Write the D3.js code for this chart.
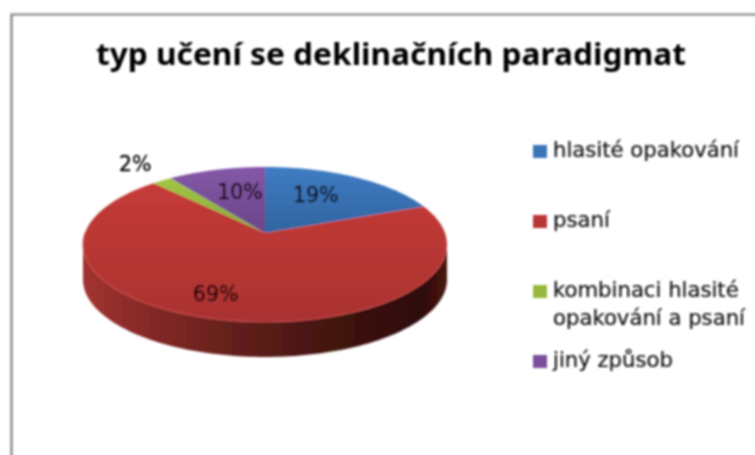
<!DOCTYPE html>
<html><head><meta charset="utf-8">
<script src="https://cdn.jsdelivr.net/npm/d3@7"></script>
<style>html,body{margin:0;padding:0;background:#fff}svg{display:block}</style>
</head><body><svg id="c" width="755" height="455"></svg>
<script>
const titleText = "typ učení se deklinačních paradigmat";
const categories = ["hlasité opakování","psaní","kombinaci hlasité opakování a psaní","jiný způsob"];
const legendLines = [["hlasité opakování"],["psaní"],["kombinaci hlasité","opakování a psaní"],["jiný způsob"]];
const values = [19,69,2,10];
const colors = ["#3a74b8","#b93634","#96b93d","#7a4f9c"];

const W=755,H=455;
const legendBaselines = [157,227,297,367];
const svg=d3.select("#c");
const defs=svg.append("defs");
defs.append("filter").attr("id","soft").attr("x","-5%").attr("y","-5%").attr("width","110%").attr("height","110%")
  .append("feGaussianBlur").attr("stdDeviation",0.8);
const vgrad=(id,c1,c2)=>{const g=defs.append("linearGradient").attr("id",id).attr("x1",0).attr("x2",0).attr("y1",0).attr("y2",1);
  g.append("stop").attr("offset",0).attr("stop-color",c1);g.append("stop").attr("offset",1).attr("stop-color",c2);};
vgrad("g0","#3f7cc4","#31659f");
vgrad("g1","#c53b38","#aa3230");
vgrad("g2","#a3c545","#86a938");
vgrad("g3","#8558a8","#6a4488");
const side=defs.append("linearGradient").attr("id","side").attr("x1",0).attr("x2",1).attr("y1",0).attr("y2",0);
[[0,"#a33331"],[0.15,"#8a2a28"],[0.4,"#65201c"],[0.7,"#40130f"],[0.93,"#2e0c0a"],[1,"#4a1512"]]
  .forEach(s=>side.append("stop").attr("offset",s[0]).attr("stop-color",s[1]));

const root=svg.append("g").attr("filter","url(#soft)");
root.append("path").attr("d",d3.line()([[11.5,H+5],[11.5,14.5],[W+5,14.5]])).attr("fill","none").attr("stroke","#7f7f7f").attr("stroke-width",2.2);

// Perspective pie projection
const cx=265,cy=233,A=180,D=75.8,K=-0.148,depth=35;
const proj=(ang,r=1)=>{const u=r*Math.sin(ang),v=-r*Math.cos(ang),w=1+K*v;return [cx+A*u/w,cy+D*v/w];};
const pieGen=d3.pie().sort(null).startAngle(0).endAngle(2*Math.PI);
const arcs=pieGen(values);
const line=d3.line();
const sample=(a0,a1)=>d3.range(0,121).map(i=>a0+(a1-a0)*i/120);

// side wall: front part of the rim, between its widest points, extruded downward
const frontRange=sample(Math.PI*0.547,Math.PI*1.453);
const rim=frontRange.map(a=>proj(a));
const wall=rim.concat(rim.slice().reverse().map(p=>[p[0],p[1]+depth]));
root.append("path").attr("d",line(wall)+"Z").attr("fill","url(#side)");

// top faces
root.selectAll("path.slice").data(arcs).join("path").attr("class","slice")
  .attr("d",d=>line([proj(0,0)].concat(sample(d.startAngle,d.endAngle).map(a=>proj(a))))+"Z")
  .attr("fill",(d,i)=>`url(#g${i})`);
// lit rim
root.append("path").attr("d",line(sample(Math.PI*0.6,Math.PI*1.5).map(a=>proj(a)))).attr("fill","none").attr("stroke","#d0514d").attr("stroke-width",1.2).attr("opacity",0.7);

// labels: placed by a fraction along the slice and a radius
const labelFrac=[0.43,0.525,0.67,0.6];
const labelRadius=[0.62,0.76,1.343,0.607];
const labelFont="'DejaVu Sans',sans-serif";
arcs.forEach((d,i)=>{
  const p=proj(d.startAngle+(d.endAngle-d.startAngle)*labelFrac[i],labelRadius[i]);
  root.append("text").attr("x",p[0]).attr("y",p[1]).attr("dy","0.36em").attr("text-anchor","middle")
    .attr("font-family",labelFont).attr("font-size",20.5).attr("fill","#0a0508").attr("stroke","#0a0508").attr("stroke-width",0.3).text(d3.format(".0%")(d.value/100));
});

// title
root.append("text").attr("x",391).attr("y",65).attr("text-anchor","middle")
  .attr("font-family","'Noto Sans','Open Sans',sans-serif").attr("font-weight",700).attr("font-size",30).attr("fill","#000")
  .attr("textLength",590).attr("lengthAdjust","spacingAndGlyphs").text(titleText);

// legend
const legend=root.selectAll("g.leg").data(categories).join("g").attr("class","leg");
legend.append("rect").attr("x",533).attr("width",14).attr("height",13)
  .attr("y",(d,i)=>legendBaselines[i]-12).attr("fill",(d,i)=>colors[i]);
legend.each(function(d,i){
  legendLines[i].forEach((t,j)=>{
    d3.select(this).append("text").attr("x",553).attr("y",legendBaselines[i]+j*28)
      .attr("font-family","'DejaVu Sans',sans-serif").attr("font-size",21.2).attr("fill","#111").attr("stroke","#111").attr("stroke-width",0.2).text(t);
  });
});
</script></body></html>
